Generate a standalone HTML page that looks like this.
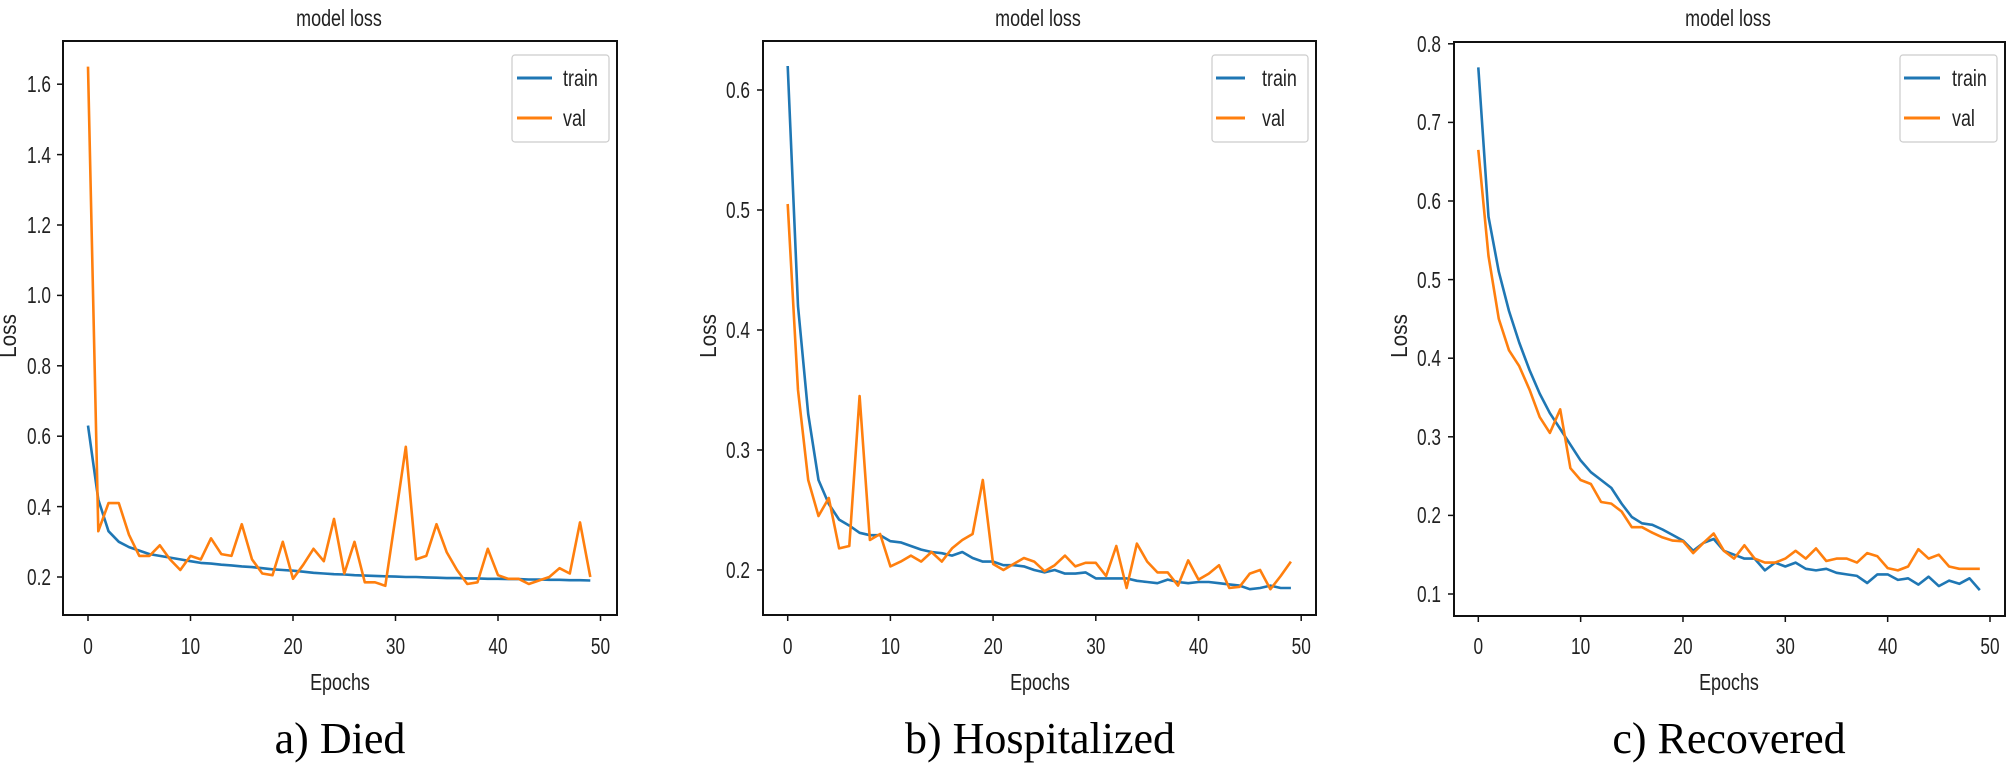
<!DOCTYPE html>
<html><head><meta charset="utf-8"><style>
html,body{margin:0;padding:0;background:#fff;}
svg{display:block;}
text{font-family:"Liberation Sans",sans-serif;fill:#222;}
.t{font-size:23px;}
.c text{font-family:"Liberation Serif",serif;font-size:44px;fill:#000;}
</style></head><body>
<svg id="s" width="2007" height="764" viewBox="0 0 2007 764" xmlns="http://www.w3.org/2000/svg">
<g fill="none" stroke="#111" stroke-width="2">
<rect x="63" y="41" width="554" height="574"/>
<rect x="763" y="41" width="553" height="574"/>
<rect x="1454" y="42" width="551" height="574"/>
</g>
<g id="ticks" stroke="#111" stroke-width="1.5"></g>
<g id="lines"></g>
<g fill="#fff" stroke="#ccc" stroke-width="1.2">
<rect x="512" y="55" width="97" height="87" rx="3"/>
<rect x="1212" y="55" width="96" height="87" rx="3"/>
<rect x="1900" y="55" width="97" height="87" rx="3"/>
</g>
<g stroke-width="3">
<line x1="517" y1="78" x2="552" y2="78" stroke="#1f77b4"/><line x1="517" y1="118" x2="552" y2="118" stroke="#ff7f0e"/>
<line x1="1216" y1="78" x2="1245" y2="78" stroke="#1f77b4"/><line x1="1216" y1="118" x2="1245" y2="118" stroke="#ff7f0e"/>
<line x1="1904" y1="78" x2="1940" y2="78" stroke="#1f77b4"/><line x1="1904" y1="118" x2="1940" y2="118" stroke="#ff7f0e"/>
</g>
<g class="t">
<text transform="translate(563,86) scale(0.78,1)">train</text><text transform="translate(563,126) scale(0.78,1)">val</text>
<text transform="translate(1262,86) scale(0.78,1)">train</text><text transform="translate(1262,126) scale(0.78,1)">val</text>
<text transform="translate(1952,86) scale(0.78,1)">train</text><text transform="translate(1952,126) scale(0.78,1)">val</text>
</g>
<g class="t" text-anchor="middle">
<text transform="translate(339,26) scale(0.78,1)">model loss</text>
<text transform="translate(1038,26) scale(0.78,1)">model loss</text>
<text transform="translate(1728,26) scale(0.78,1)">model loss</text>
<text transform="translate(340,690) scale(0.78,1)">Epochs</text>
<text transform="translate(1040,690) scale(0.78,1)">Epochs</text>
<text transform="translate(1729,690) scale(0.78,1)">Epochs</text>
</g>
<g class="t" text-anchor="middle">
<text transform="translate(16,336) rotate(-90) scale(0.9,1)">Loss</text>
<text transform="translate(716,336) rotate(-90) scale(0.9,1)">Loss</text>
<text transform="translate(1407,336) rotate(-90) scale(0.9,1)">Loss</text>
</g>
<g class="t" text-anchor="end">
<text transform="translate(51,585) scale(0.75,1)">0.2</text>
<text transform="translate(51,515) scale(0.75,1)">0.4</text>
<text transform="translate(51,444) scale(0.75,1)">0.6</text>
<text transform="translate(51,374) scale(0.75,1)">0.8</text>
<text transform="translate(51,303) scale(0.75,1)">1.0</text>
<text transform="translate(51,233) scale(0.75,1)">1.2</text>
<text transform="translate(51,163) scale(0.75,1)">1.4</text>
<text transform="translate(51,92) scale(0.75,1)">1.6</text>
<text transform="translate(750,578) scale(0.75,1)">0.2</text>
<text transform="translate(750,458) scale(0.75,1)">0.3</text>
<text transform="translate(750,338) scale(0.75,1)">0.4</text>
<text transform="translate(750,218) scale(0.75,1)">0.5</text>
<text transform="translate(750,98) scale(0.75,1)">0.6</text>
<text transform="translate(1441,602) scale(0.75,1)">0.1</text>
<text transform="translate(1441,523) scale(0.75,1)">0.2</text>
<text transform="translate(1441,445) scale(0.75,1)">0.3</text>
<text transform="translate(1441,366) scale(0.75,1)">0.4</text>
<text transform="translate(1441,288) scale(0.75,1)">0.5</text>
<text transform="translate(1441,209) scale(0.75,1)">0.6</text>
<text transform="translate(1441,130) scale(0.75,1)">0.7</text>
<text transform="translate(1441,52) scale(0.75,1)">0.8</text>
</g>
<g class="t" text-anchor="middle">
<text transform="translate(88,654) scale(0.75,1)">0</text>
<text transform="translate(190.5,654) scale(0.75,1)">10</text>
<text transform="translate(293,654) scale(0.75,1)">20</text>
<text transform="translate(395.5,654) scale(0.75,1)">30</text>
<text transform="translate(498,654) scale(0.75,1)">40</text>
<text transform="translate(600.5,654) scale(0.75,1)">50</text>
<text transform="translate(787.7,654) scale(0.75,1)">0</text>
<text transform="translate(890.4,654) scale(0.75,1)">10</text>
<text transform="translate(993.1,654) scale(0.75,1)">20</text>
<text transform="translate(1095.8,654) scale(0.75,1)">30</text>
<text transform="translate(1198.5,654) scale(0.75,1)">40</text>
<text transform="translate(1301.2,654) scale(0.75,1)">50</text>
<text transform="translate(1478.3,654) scale(0.75,1)">0</text>
<text transform="translate(1580.6,654) scale(0.75,1)">10</text>
<text transform="translate(1683,654) scale(0.75,1)">20</text>
<text transform="translate(1785.3,654) scale(0.75,1)">30</text>
<text transform="translate(1887.7,654) scale(0.75,1)">40</text>
<text transform="translate(1990,654) scale(0.75,1)">50</text>
</g>
<g class="c" text-anchor="middle">
<text x="340" y="753">a) Died</text>
<text x="1040" y="753">b) Hospitalized</text>
<text x="1729" y="753">c) Recovered</text>
</g>
</svg>
<script>
var P=[
{x0:88,dx:10.25,y0:577,v0:0.2,dv:70.4/0.2,yt:[0.2,0.4,0.6,0.8,1.0,1.2,1.4,1.6],bx:63,by:615,
tr:[0.63,0.42,0.33,0.30,0.285,0.275,0.265,0.26,0.255,0.25,0.245,0.24,0.238,0.235,0.233,0.23,0.228,0.225,0.222,0.22,0.218,0.215,0.212,0.21,0.208,0.207,0.205,0.204,0.203,0.202,0.201,0.2,0.2,0.199,0.198,0.197,0.197,0.196,0.196,0.195,0.195,0.194,0.194,0.193,0.193,0.192,0.192,0.191,0.191,0.19],
va:[1.65,0.33,0.41,0.41,0.32,0.26,0.26,0.29,0.25,0.22,0.26,0.25,0.31,0.265,0.26,0.35,0.25,0.21,0.205,0.30,0.195,0.235,0.28,0.245,0.365,0.21,0.30,0.185,0.185,0.175,0.37,0.57,0.25,0.26,0.35,0.27,0.22,0.18,0.185,0.28,0.205,0.195,0.195,0.18,0.19,0.20,0.225,0.21,0.355,0.20]},
{x0:787.7,dx:10.27,y0:570,v0:0.2,dv:1200,yt:[0.2,0.3,0.4,0.5,0.6],bx:763,by:615,
tr:[0.62,0.42,0.33,0.275,0.255,0.242,0.237,0.231,0.229,0.229,0.224,0.223,0.22,0.217,0.215,0.214,0.212,0.215,0.21,0.207,0.207,0.204,0.204,0.203,0.2,0.198,0.2,0.197,0.197,0.198,0.193,0.193,0.193,0.193,0.191,0.19,0.189,0.192,0.19,0.189,0.19,0.19,0.189,0.188,0.187,0.184,0.185,0.187,0.185,0.185],
va:[0.505,0.35,0.275,0.245,0.26,0.218,0.22,0.345,0.225,0.23,0.203,0.207,0.212,0.207,0.215,0.207,0.218,0.225,0.23,0.275,0.205,0.2,0.205,0.21,0.207,0.199,0.204,0.212,0.203,0.206,0.206,0.195,0.22,0.185,0.222,0.207,0.198,0.198,0.187,0.208,0.192,0.197,0.204,0.185,0.186,0.197,0.2,0.184,0.195,0.207]},
{x0:1478.3,dx:10.234,y0:594,v0:0.1,dv:786,yt:[0.1,0.2,0.3,0.4,0.5,0.6,0.7,0.8],bx:1454,by:616,
tr:[0.77,0.58,0.51,0.46,0.42,0.385,0.355,0.33,0.31,0.29,0.27,0.255,0.245,0.235,0.215,0.198,0.19,0.188,0.182,0.175,0.168,0.155,0.165,0.17,0.155,0.15,0.145,0.145,0.13,0.14,0.135,0.14,0.132,0.13,0.132,0.127,0.125,0.123,0.114,0.125,0.125,0.118,0.12,0.112,0.122,0.11,0.117,0.113,0.12,0.105],
va:[0.665,0.53,0.45,0.41,0.39,0.36,0.325,0.305,0.335,0.26,0.245,0.24,0.217,0.215,0.205,0.185,0.185,0.178,0.172,0.168,0.167,0.152,0.165,0.177,0.155,0.145,0.162,0.145,0.14,0.14,0.145,0.155,0.145,0.158,0.142,0.145,0.145,0.14,0.152,0.148,0.133,0.13,0.135,0.157,0.145,0.15,0.135,0.132,0.132,0.132]}];
var NS="http://www.w3.org/2000/svg",L=document.getElementById('lines'),T=document.getElementById('ticks');
function el(p,n,a){var e=document.createElementNS(NS,n);for(var k in a)e.setAttribute(k,a[k]);p.appendChild(e);}
P.forEach(function(p){
 function Y(v){return p.y0-(v-p.v0)*p.dv;}
 p.yt.forEach(function(v){el(T,'line',{x1:p.bx-6,x2:p.bx,y1:Y(v),y2:Y(v)});});
 for(var e=0;e<=50;e+=10){var x=p.x0+e*p.dx;el(T,'line',{x1:x,x2:x,y1:p.by,y2:p.by+6});}
 [['tr','#1f77b4'],['va','#ff7f0e']].forEach(function(s){
  var pts=p[s[0]].map(function(v,i){return (p.x0+i*p.dx).toFixed(1)+','+Y(v).toFixed(1);}).join(' ');
  el(L,'polyline',{points:pts,fill:'none',stroke:s[1],'stroke-width':2.6,'stroke-linejoin':'round'});
 });
});
</script>
</body></html>
